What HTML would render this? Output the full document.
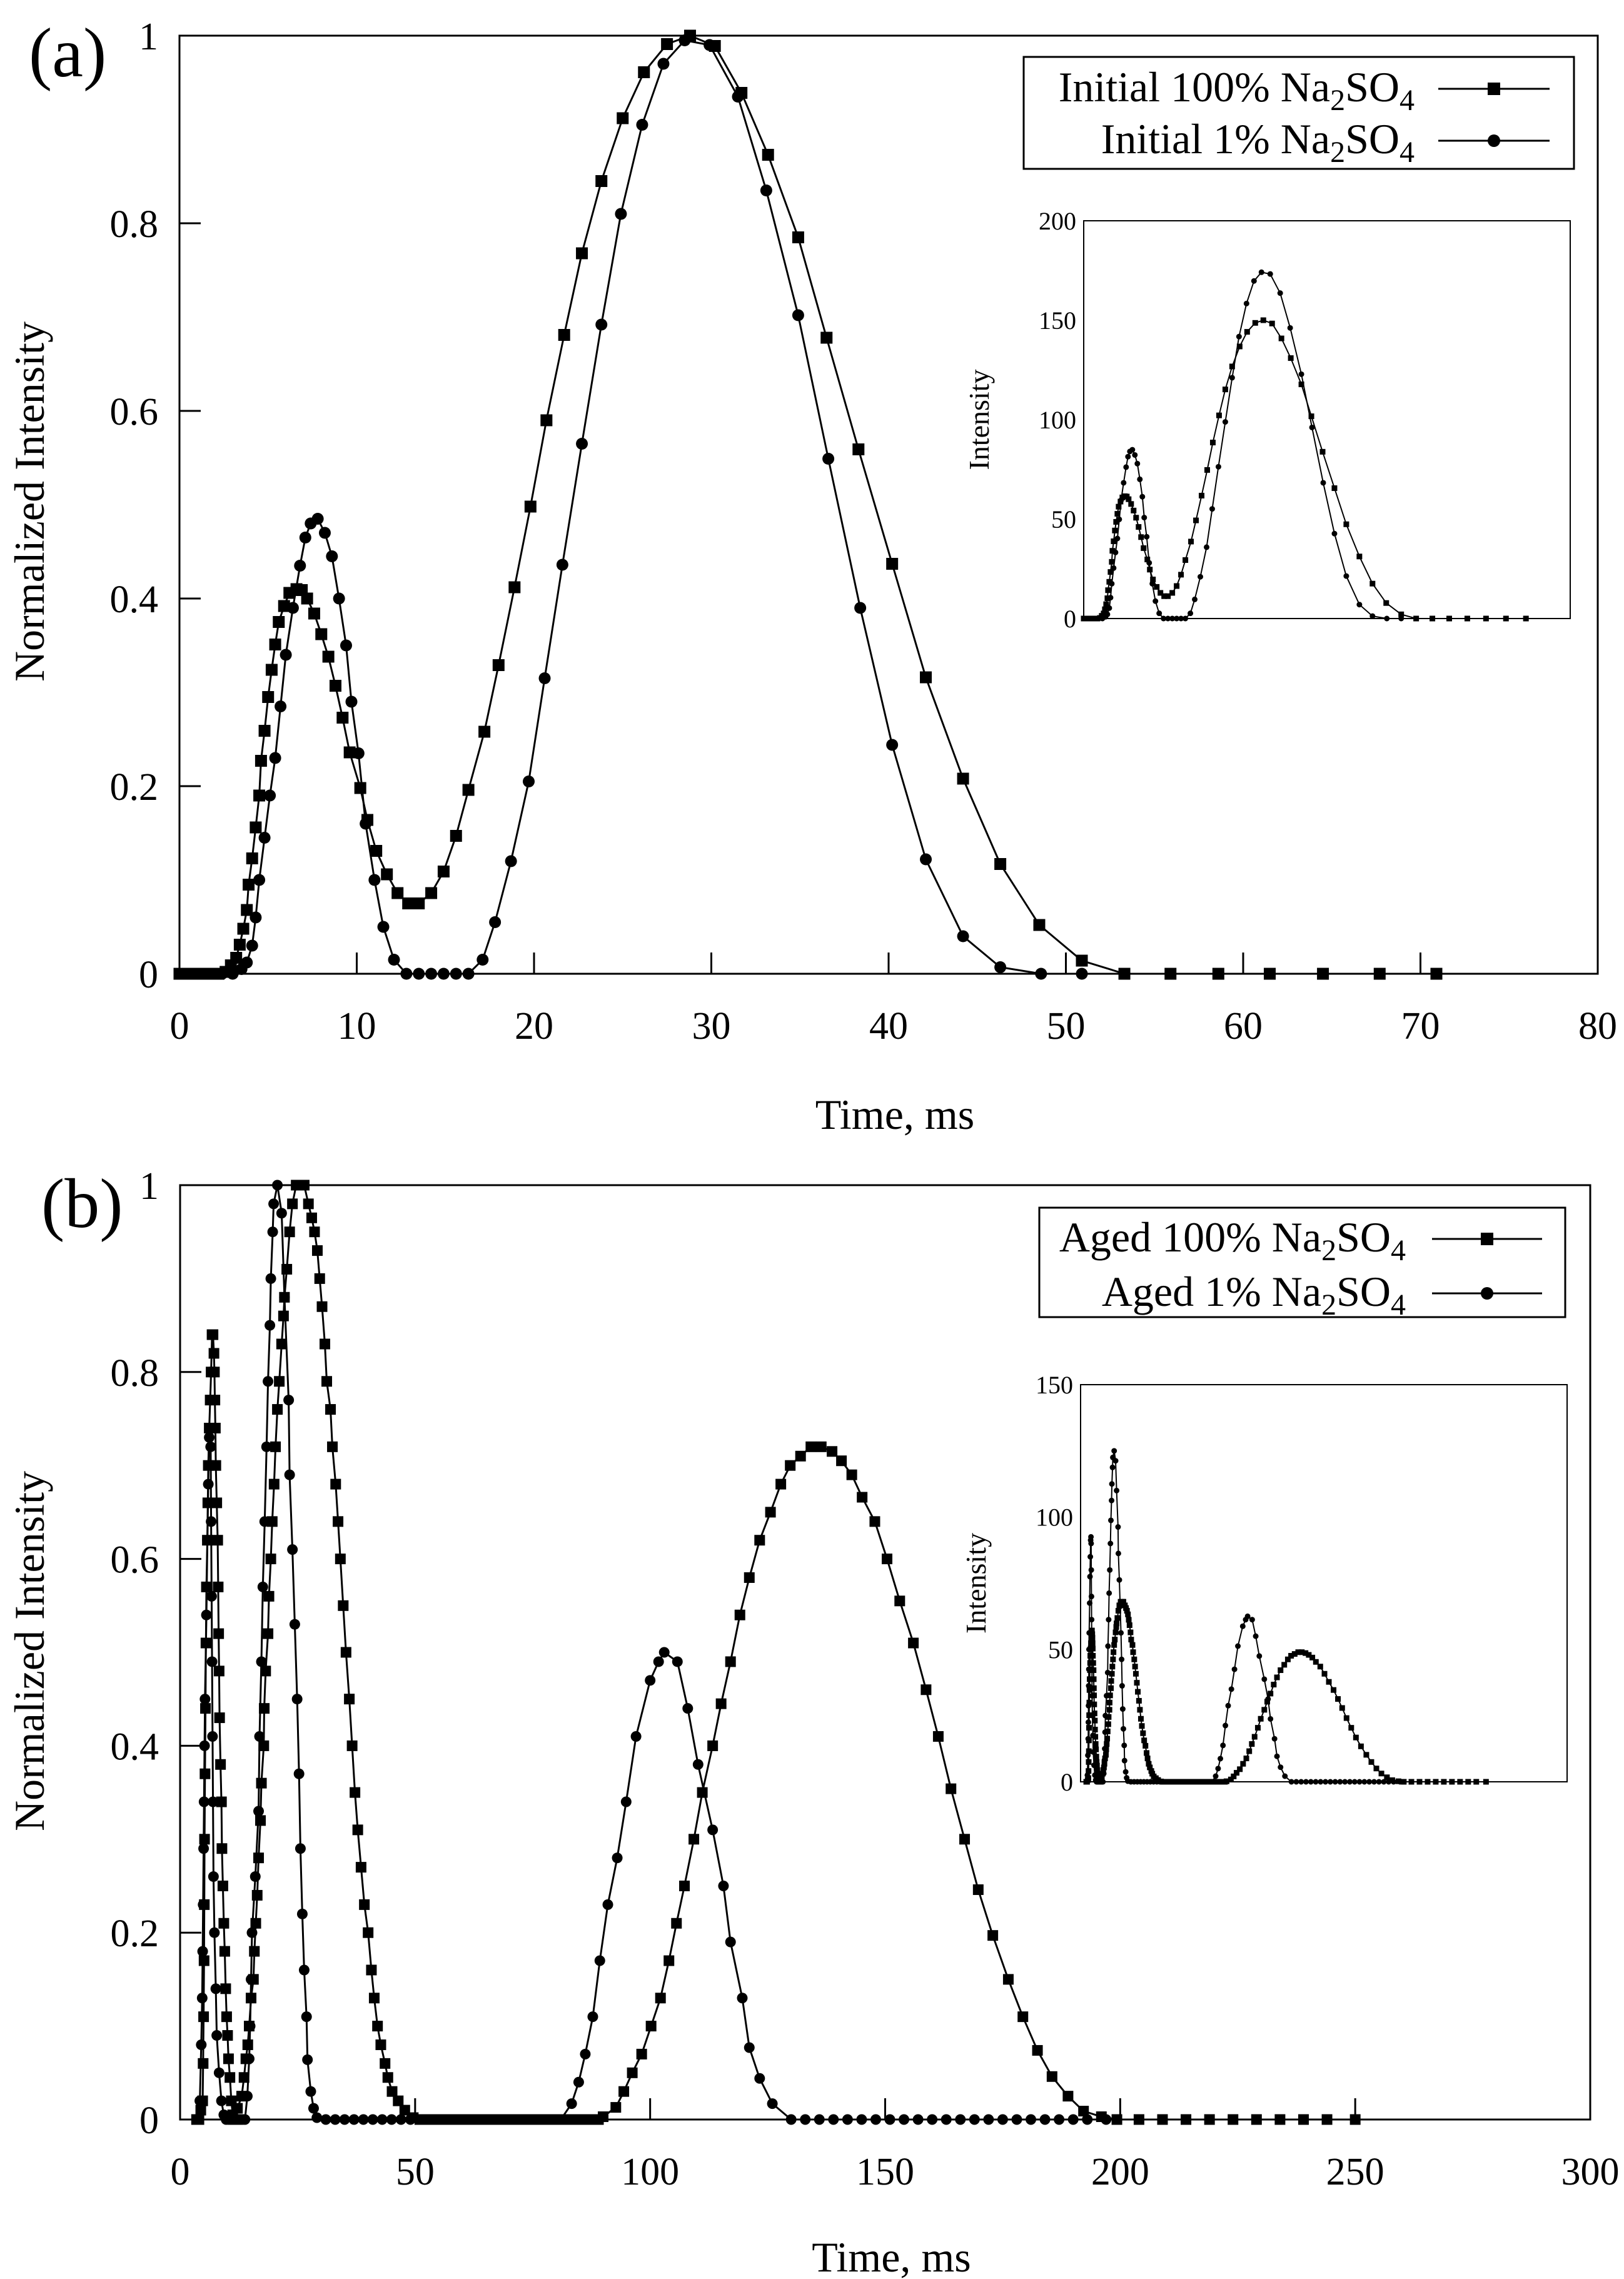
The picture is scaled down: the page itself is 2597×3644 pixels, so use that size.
<!DOCTYPE html>
<html><head><meta charset="utf-8"><style>
html,body{margin:0;padding:0;background:#fff}
svg{display:block}
text{font-family:"Liberation Serif",serif;fill:#000}
</style></head><body>
<svg id="fig" xmlns="http://www.w3.org/2000/svg" width="2597" height="3644" viewBox="0 0 2597 3644">
<rect x="0" y="0" width="2597" height="3644" fill="#fff"/>
<g id="panelA"></g>
<g id="panelB"></g>
</svg>
<script>
// ---- Panel (a) data ----
const aSqT = [0,0.5,0.9,1.35,1.75,2.2,2.6,2.9,3.2,3.4,3.6,3.8,3.9,4.1,4.3,4.5,4.6,4.8,5.0,5.2,5.4,5.6,5.9,6.2,6.6,6.9,7.2,7.6,8.0,8.4,8.8,9.2,9.6,10.2,10.6,11.1,11.7,12.3,12.9,13.5,14.2,14.9,15.6,16.3,17.2,18.0,18.9,19.8,20.7,21.7,22.7,23.8,25.0,26.2,27.5,28.8,30.2,31.7,33.2,34.9,36.5,38.3,40.2,42.1,44.2,46.3,48.5,50.9,53.3,55.9,58.6,61.5,64.5,67.7,70.9];
const aSqV = [0,0,0,0,0,0,0.002,0.009,0.017,0.031,0.048,0.068,0.095,0.123,0.156,0.19,0.227,0.259,0.295,0.324,0.351,0.375,0.392,0.406,0.41,0.409,0.4,0.384,0.362,0.338,0.307,0.273,0.236,0.198,0.164,0.131,0.106,0.086,0.075,0.075,0.086,0.109,0.147,0.196,0.258,0.329,0.412,0.498,0.59,0.681,0.768,0.845,0.912,0.961,0.991,1.0,0.989,0.939,0.873,0.785,0.678,0.559,0.437,0.316,0.208,0.117,0.052,0.014,0,0,0,0,0,0,0];
const aCiT = [0,0.6,1.2,1.8,2.4,3.0,3.5,3.8,4.1,4.3,4.5,4.8,5.1,5.4,5.7,6.0,6.4,6.8,7.1,7.4,7.8,8.2,8.6,9.0,9.4,9.7,10.1,10.5,11.0,11.5,12.1,12.8,13.5,14.2,14.9,15.6,16.3,17.1,17.8,18.7,19.7,20.6,21.6,22.7,23.8,24.9,26.1,27.3,28.5,29.9,31.5,33.1,34.9,36.6,38.4,40.2,42.1,44.2,46.3,48.6,50.9];
const aCiV = [0,0,0,0,0,0,0.005,0.012,0.03,0.06,0.1,0.145,0.19,0.23,0.285,0.34,0.39,0.435,0.465,0.48,0.485,0.47,0.445,0.4,0.35,0.29,0.235,0.16,0.1,0.05,0.015,0,0,0,0,0,0,0.015,0.055,0.12,0.205,0.315,0.436,0.565,0.692,0.81,0.905,0.97,0.995,0.99,0.935,0.835,0.702,0.549,0.39,0.244,0.122,0.04,0.007,0,0];
const aXTicks = [0,10,20,30,40,50,60,70,80];
const aYTicks = [0,0.2,0.4,0.6,0.8,1];
const aYTickLabels = ["0","0.2","0.4","0.6","0.8","1"];
const aInsetScaleSq = 150, aInsetScaleCi = 175;
const aInsetYTicks = [0,50,100,150,200];

// ---- Panel (b) data ----
const bSqT = [3.5,4.0,4.4,4.8,4.9,5.0,5.1,5.15,5.2,5.3,5.4,5.5,5.6,5.8,5.9,6.0,6.2,6.4,6.6,6.8,7.0,7.2,7.3,7.4,7.5,7.6,7.8,8.0,8.1,8.2,8.3,8.4,8.6,8.8,8.9,9.1,9.3,9.5,9.7,9.9,10.1,10.3,10.6,10.9,11.2,11.6,12.0,12.2,13.1,13.6,14.0,14.4,14.7,15.1,15.6,15.8,16.1,16.4,16.7,17.1,17.3,17.8,17.9,18.2,18.7,18.9,19.3,19.6,20.0,20.3,20.7,21.1,21.6,22.0,22.2,22.7,23.3,23.9,24.7,25.6,26.4,27.3,28.0,28.6,29.2,29.7,30.2,30.8,31.2,32.0,32.4,33.1,33.6,34.1,34.7,35.3,36.0,36.6,37.2,37.8,38.5,39.2,40.0,40.7,41.3,42.0,42.7,43.6,44.2,45.1,46.4,47.8,49.6,51,53,55,57,59,61,63,65,67,69,71,73,75,77,79,81,83,85,87,89,90,92.7,94.4,96.2,98.2,100.2,102.2,104.0,105.6,107.3,109.3,111.1,113.3,115.1,117.1,119.1,121.1,123.3,125.6,127.8,129.8,132.0,134.2,136.4,138.7,140.7,142.9,145.1,147.8,150.4,153.1,156.0,158.7,161.3,164.0,166.9,169.8,172.9,176.2,179.3,182.4,185.5,188.9,192.2,196.0,199.3,204,209,214,219,224,229,234,239,244,250];
const bSqV = [0,0,0.01,0.02,0.06,0.11,0.17,0.23,0.3,0.37,0.44,0.51,0.57,0.62,0.66,0.7,0.74,0.77,0.8,0.84,0.84,0.82,0.8,0.77,0.74,0.7,0.66,0.62,0.57,0.52,0.48,0.43,0.38,0.34,0.29,0.25,0.21,0.18,0.14,0.11,0.09,0.065,0.045,0.02,0.005,0,0,0.012,0.025,0.045,0.065,0.08,0.1,0.13,0.15,0.18,0.21,0.24,0.28,0.32,0.36,0.4,0.44,0.48,0.52,0.56,0.6,0.64,0.68,0.72,0.76,0.79,0.83,0.86,0.88,0.91,0.95,0.98,1.0,1.0,1.0,0.98,0.965,0.95,0.93,0.9,0.87,0.83,0.79,0.76,0.72,0.68,0.64,0.6,0.55,0.5,0.45,0.4,0.35,0.31,0.27,0.23,0.2,0.16,0.13,0.1,0.08,0.06,0.045,0.03,0.02,0.01,0.002,0,0,0,0,0,0,0,0,0,0,0,0,0,0,0,0,0,0,0,0,0.003,0.013,0.03,0.05,0.07,0.1,0.13,0.17,0.21,0.25,0.3,0.35,0.4,0.445,0.49,0.54,0.58,0.62,0.65,0.68,0.7,0.71,0.72,0.72,0.715,0.705,0.69,0.666,0.64,0.6,0.555,0.51,0.46,0.41,0.354,0.3,0.246,0.197,0.15,0.11,0.074,0.046,0.025,0.009,0.003,0,0,0,0,0,0,0,0,0,0,0];
const bCiT = [3.8,4.2,4.5,4.7,4.8,4.9,5.0,5.1,5.2,5.3,5.6,5.8,6.0,6.2,6.4,6.5,6.6,6.7,6.8,6.9,7.0,7.1,7.3,7.6,7.8,8.3,8.8,9.3,9.8,10.3,10.8,11.3,11.8,12.3,12.8,13.3,13.8,14.3,14.7,14.9,15.1,15.3,16.0,16.7,16.9,17.3,17.6,18.0,18.4,18.7,19.1,19.3,19.7,19.9,20.7,21.6,22.2,23.1,23.3,23.9,24.4,24.9,25.3,25.6,26.0,26.4,26.9,27.1,27.8,28.4,29.1,31,33,35,37,39,41,43,45,47,49,51,53,55,57,59,61,63,65,67,69,71,73,75,77,79,81,83.3,84.8,86.2,87.8,89.3,91.0,93.0,94.9,97.0,100.0,101.8,103.0,105.8,108.0,110.2,113.3,115.6,117.1,119.6,121.1,123.3,126.0,130,133,136,139,142,145,148,151,154,157,160,163,166,169,172,175,178,181,184,187,190,193,197];
const bCiV = [0,0.02,0.08,0.13,0.18,0.23,0.29,0.34,0.4,0.45,0.54,0.62,0.68,0.73,0.74,0.72,0.64,0.56,0.49,0.41,0.34,0.26,0.2,0.14,0.09,0.05,0.02,0.005,0,0,0,0,0,0,0,0,0,0.025,0.065,0.1,0.15,0.2,0.26,0.33,0.41,0.49,0.57,0.64,0.72,0.79,0.85,0.9,0.95,0.98,1.0,0.97,0.88,0.77,0.69,0.61,0.53,0.45,0.37,0.29,0.22,0.16,0.11,0.064,0.03,0.012,0.002,0,0,0,0,0,0,0,0,0,0,0,0,0,0,0,0,0,0,0,0,0,0,0,0,0,0,0.017,0.04,0.07,0.11,0.17,0.23,0.28,0.34,0.41,0.47,0.49,0.5,0.49,0.44,0.38,0.31,0.25,0.19,0.13,0.077,0.044,0.017,0,0,0,0,0,0,0,0,0,0,0,0,0,0,0,0,0,0,0,0,0,0,0,0,0];
const bXTicks = [0,50,100,150,200,250,300];
const bYTicks = [0,0.2,0.4,0.6,0.8,1];
const bYTickLabels = ["0","0.2","0.4","0.6","0.8","1"];
const bInsetScaleSq = 68, bInsetScaleCi = 125;
const bInsetYTicks = [0,50,100,150];

const NS = "http://www.w3.org/2000/svg";
function mk(parent, tag, attrs){
  const e = document.createElementNS(NS, tag);
  for (const k in attrs) e.setAttribute(k, attrs[k]);
  parent.appendChild(e);
  return e;
}
function linScale(d0,d1,r0,r1){ return v => r0 + (v-d0)*(r1-r0)/(d1-d0); }

function drawSeries(g, ts, vs, sx, sy, scale, shape, size, lw, name){
  const sg = mk(g,'g',{});
  
  
  let d = '';
  for (let i=0;i<ts.length;i++){ d += (i?'L':'M') + sx(ts[i]).toFixed(1) + ' ' + sy(vs[i]*scale).toFixed(1); }
  const ln = mk(sg,'path',{d:d, fill:'none', stroke:'#000', 'stroke-width':lw});
  
  
  for (let i=0;i<ts.length;i++){
    const x = sx(ts[i]), y = sy(vs[i]*scale);
    let m;
    if (shape==='sq') m = mk(sg,'rect',{x:x-size/2, y:y-size/2, width:size, height:size, fill:'#000'});
    else m = mk(sg,'circle',{cx:x, cy:y, r:size/2, fill:'#000'});
    
    
  }
}

function txt(g, x, y, s, size, anchor, name){
  const t = mk(g,'text',{x:x, y:y, 'font-size':size, 'text-anchor':anchor||'start'});
  t.textContent = s;
  
  
  return t;
}

function legendText(g, xRight, y, prefix, name){
  const t = mk(g,'text',{x:xRight, y:y, 'font-size':68, 'text-anchor':'end'});
  
  
  t.appendChild(document.createTextNode(prefix + ' Na'));
  const s1 = mk(t,'tspan',{'font-size':48, dy:14}); s1.textContent='2';
  const s2 = mk(t,'tspan',{'font-size':68, dy:-14}); s2.textContent='SO';
  const s3 = mk(t,'tspan',{'font-size':48, dy:14}); s3.textContent='4';
  return t;
}

function panel(g, cfg){
  const sx = linScale(cfg.xd[0], cfg.xd[1], cfg.L, cfg.R);
  const sy = linScale(0, 1, cfg.B, cfg.T);
  const fr = mk(g,'rect',{x:cfg.L, y:cfg.T, width:cfg.R-cfg.L, height:cfg.B-cfg.T, fill:'none', stroke:'#000', 'stroke-width':3});
  
  
  cfg.xTicks.forEach(t=>{
    const x = sx(t);
    const tk = mk(g,'line',{x1:x, x2:x, y1:cfg.B, y2:cfg.B-34, stroke:'#000', 'stroke-width':3});
    
    
    txt(g, x, cfg.B+104, String(t), 62, 'middle', 'x-tick-label');
  });
  cfg.yTicks.forEach((v,i)=>{
    const y = sy(v);
    const tk = mk(g,'line',{x1:cfg.L, x2:cfg.L+34, y1:y, y2:y, stroke:'#000', 'stroke-width':3});
    
    
    txt(g, cfg.L-34, y+22, cfg.yTickLabels[i], 62, 'end', 'y-tick-label');
  });
  txt(g, (cfg.L+cfg.R)/2+10, cfg.xTitleY, 'Time, ms', 68, 'middle', 'x-axis-title');
  const yt = txt(g, 0, 0, 'Normalized Intensity', 68, 'middle', 'y-axis-title');
  yt.setAttribute('transform', `translate(70,${cfg.yTitleC}) rotate(-90)`);
  txt(g, cfg.panelLabelX, cfg.panelLabelY, cfg.panelLabel, 112, 'start', 'panel-label');

  drawSeries(g, cfg.sqT, cfg.sqV, sx, sy, 1, 'sq', cfg.ms, 3, 'series-100pct');
  drawSeries(g, cfg.ciT, cfg.ciV, sx, sy, 1, 'ci', cfg.ms, 3, 'series-1pct');

  const lg = mk(g,'g',{});
  
  
  const lb = mk(lg,'rect',{x:cfg.lg.x, y:cfg.lg.y, width:cfg.lg.w, height:cfg.lg.h, fill:'#fff', stroke:'#000', 'stroke-width':3});
  
  
  cfg.lg.rows.forEach((r,i)=>{
    const e = mk(lg,'g',{});
    
    
    legendText(e, cfg.lg.tx, r.y+20, r.label, 'legend-label');
    mk(e,'line',{x1:cfg.lg.l1, x2:cfg.lg.l2, y1:r.y, y2:r.y, stroke:'#000', 'stroke-width':3});
    const mx = (cfg.lg.l1+cfg.lg.l2)/2;
    if (i===0) mk(e,'rect',{x:mx-10, y:r.y-10, width:20, height:20, fill:'#000'});
    else mk(e,'circle',{cx:mx, cy:r.y, r:10, fill:'#000'});
  });

  const ig = mk(g,'g',{});
  
  
  const I = cfg.inset;
  const ix = linScale(I.xd[0], I.xd[1], I.L, I.R);
  const iy = linScale(0, I.ymax, I.B, I.T);
  const ib = mk(ig,'rect',{x:I.L, y:I.T, width:I.R-I.L, height:I.B-I.T, fill:'none', stroke:'#000', 'stroke-width':2});
  
  
  I.yTicks.forEach(v=>{ txt(ig, I.L-12, iy(v)+14, String(v), 40, 'end', 'inset-y-tick-label'); });
  const it = txt(ig, 0, 0, 'Intensity', 46, 'middle', 'inset-y-axis-title');
  it.setAttribute('transform', `translate(${I.L-152},${(I.T+I.B)/2}) rotate(-90)`);
  drawSeries(ig, cfg.sqT, cfg.sqV, ix, iy, I.sSq, 'sq', 9, 2, 'inset-series-100pct');
  drawSeries(ig, cfg.ciT, cfg.ciV, ix, iy, I.sCi, 'ci', 9, 2, 'inset-series-1pct');
}

panel(document.getElementById('panelA'), {
  L:287, R:2555, T:57, B:1557, xd:[0,80],
  xTicks:aXTicks, yTicks:aYTicks, yTickLabels:aYTickLabels,
  xTitleY:1805, yTitleC:802, panelLabelX:46, panelLabelY:122, panelLabel:'(a)',
  sqT:aSqT, sqV:aSqV, ciT:aCiT, ciV:aCiV, ms:19,
  lg:{x:1637, y:91, w:880, h:179, tx:2262, l1:2300, l2:2478, rows:[{y:142,label:'Initial 100%'},{y:225,label:'Initial 1%'}]},
  inset:{L:1733, R:2511, T:353, B:989, xd:[0,78], ymax:200, yTicks:aInsetYTicks, sSq:aInsetScaleSq, sCi:aInsetScaleCi}
});
panel(document.getElementById('panelB'), {
  L:288, R:2543, T:1895, B:3389, xd:[0,300],
  xTicks:bXTicks, yTicks:bYTicks, yTickLabels:bYTickLabels,
  xTitleY:3632, yTitleC:2640, panelLabelX:66, panelLabelY:1962, panelLabel:'(b)',
  sqT:bSqT, sqV:bSqV, ciT:bCiT, ciV:bCiV, ms:17,
  lg:{x:1662, y:1931, w:841, h:175, tx:2248, l1:2290, l2:2466, rows:[{y:1981,label:'Aged 100%'},{y:2068,label:'Aged 1%'}]},
  inset:{L:1728, R:2506, T:2214, B:2849, xd:[0,300], ymax:150, yTicks:bInsetYTicks, sSq:bInsetScaleSq, sCi:bInsetScaleCi}
});
</script>
</body></html>
